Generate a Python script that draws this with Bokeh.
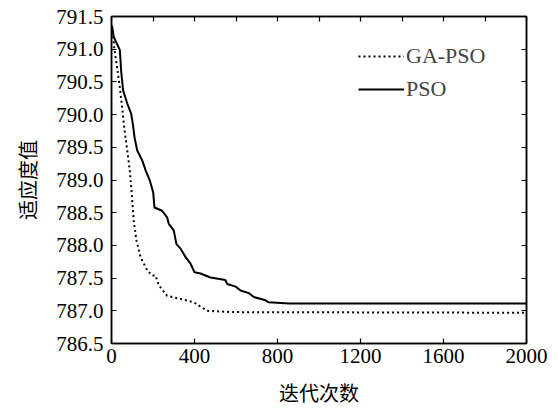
from bokeh.plotting import figure
from bokeh.models import LinearAxis, FixedTicker, NumeralTickFormatter, Legend, LegendItem
from bokeh.embed import file_html
from bokeh.resources import INLINE

# PSO curve (solid)
pso_x = [0, 3, 10, 19, 40, 47, 56, 76, 95, 104, 111, 124, 148, 164, 185, 201, 207, 244, 268,
         276, 300, 313, 333, 357, 381, 400, 429, 477, 549, 558, 598, 622, 662, 686, 742, 758,
         855, 2000]
pso_y = [791.35, 791.35, 791.2, 791.13, 790.99, 790.65, 790.37, 790.17, 790.01, 789.83, 789.65,
         789.45, 789.30, 789.15, 788.99, 788.81, 788.58, 788.53, 788.43, 788.33, 788.23, 788.02,
         787.95, 787.82, 787.72, 787.59, 787.57, 787.51, 787.47, 787.41, 787.37, 787.31, 787.27,
         787.21, 787.16, 787.13, 787.11, 787.11]

# GA-PSO curve (dotted)
ga_x = [0, 3, 14, 27, 40, 51, 63, 76, 88, 100, 107, 120, 140, 172, 196, 212, 228, 268, 333,
        397, 421, 461, 589, 2000]
ga_y = [791.34, 791.34, 791.0, 790.72, 790.42, 790.11, 789.76, 789.45, 789.15, 788.69, 788.38,
        788.08, 787.82, 787.62, 787.54, 787.54, 787.39, 787.23, 787.18, 787.13, 787.08, 787.0,
        786.98, 786.97]

x_ticks_bottom = [0, 400, 800, 1200, 1600, 2000]
x_ticks_top = list(range(0, 2001, 200))
y_ticks = [786.5, 787.0, 787.5, 788.0, 788.5, 789.0, 789.5, 790.0, 790.5, 791.0, 791.5]

x_label = "迭代次数"
y_label = "适应度值"
names = ["GA-PSO", "PSO"]

SERIF = "Liberation Serif"
CJK = "Noto Sans CJK SC"

p = figure(width=558, height=409, x_range=(0, 2000), y_range=(786.5, 791.5),
           output_backend="svg", toolbar_location=None,
           min_border_left=111, min_border_right=32, min_border_top=16, min_border_bottom=66)
p.xgrid.visible = False
p.ygrid.visible = False
p.outline_line_color = "black"
p.outline_line_width = 1.5
p.background_fill_color = "white"
p.border_fill_color = "white"

r_ga = p.line(ga_x, ga_y, line_color="black", line_width=2, line_dash="2 3")
r_pso = p.line(pso_x, pso_y, line_color="black", line_width=2)

def style_axis(ax):
    ax.major_tick_in = 5
    ax.major_tick_out = 0
    ax.minor_tick_line_color = None
    ax.axis_line_color = "black"
    ax.axis_line_width = 1.5
    ax.major_tick_line_color = "black"
    ax.major_tick_line_width = 1.2
    ax.major_label_text_font = SERIF
    ax.major_label_text_font_size = "21px"
    ax.major_label_text_color = "black"

xa = p.xaxis[0]
xa.ticker = FixedTicker(ticks=x_ticks_bottom)
style_axis(xa)
xa.major_label_standoff = 5
xa.axis_label = x_label
xa.axis_label_text_font = CJK
xa.axis_label_text_font_style = "normal"
xa.axis_label_text_font_size = "20px"
xa.axis_label_text_color = "black"
xa.axis_label_standoff = 12

ya = p.yaxis[0]
ya.ticker = FixedTicker(ticks=y_ticks)
ya.formatter = NumeralTickFormatter(format="0.0")
style_axis(ya)
ya.major_label_standoff = 8
ya.axis_label = y_label
ya.axis_label_text_font = CJK
ya.axis_label_text_font_style = "normal"
ya.axis_label_text_font_size = "20px"
ya.axis_label_text_color = "black"
ya.axis_label_standoff = 11

top = LinearAxis(ticker=FixedTicker(ticks=x_ticks_top))
style_axis(top)
top.major_label_text_color = None
top.major_label_text_font_size = "0px"
top.major_label_standoff = 0
p.add_layout(top, "above")

right = LinearAxis(ticker=FixedTicker(ticks=y_ticks))
style_axis(right)
right.major_label_text_color = None
right.major_label_text_font_size = "0px"
right.major_label_standoff = 0
p.add_layout(right, "right")

legend = Legend(items=[LegendItem(label=names[0], renderers=[r_ga]),
                       LegendItem(label=names[1], renderers=[r_pso])],
                location="top_right")
legend.border_line_color = None
legend.background_fill_alpha = 0
legend.label_text_font = SERIF
legend.label_text_font_size = "22px"
legend.glyph_width = 46
legend.glyph_height = 22
legend.label_height = 22
legend.label_width = 93
legend.label_standoff = 2
legend.spacing = 7
legend.padding = 8
legend.margin = 27
p.add_layout(legend)

open("out.html", "w").write(file_html(p, INLINE))
